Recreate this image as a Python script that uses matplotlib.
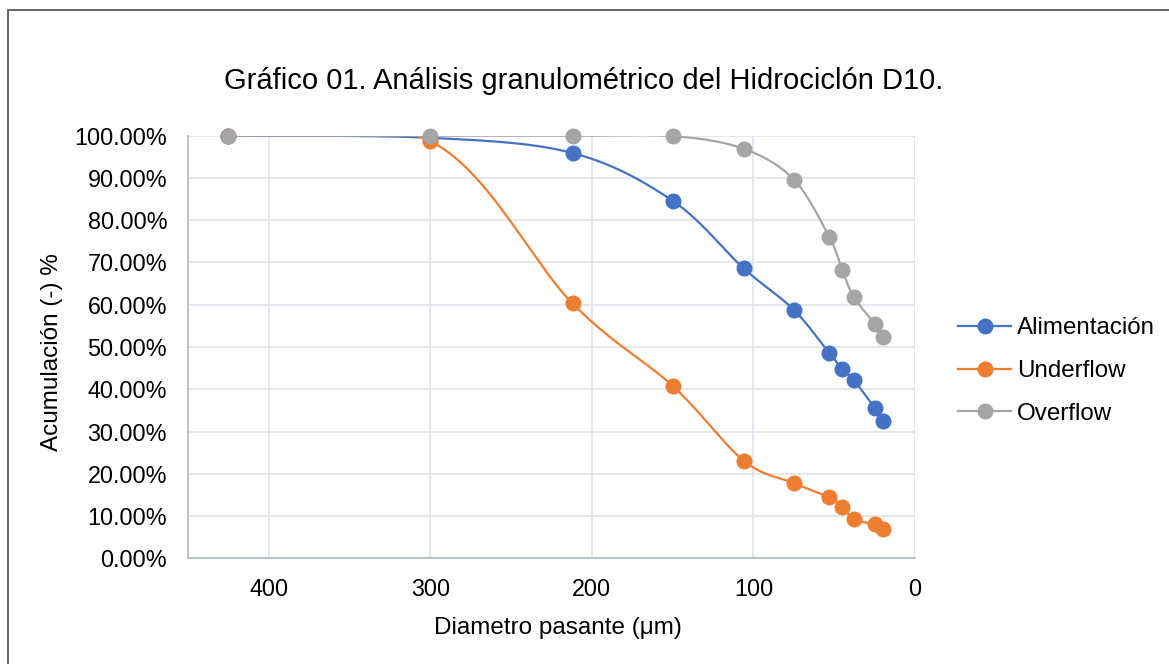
import matplotlib
matplotlib.use("Agg")
import matplotlib.pyplot as plt
import numpy as np
from matplotlib.patches import Rectangle
from matplotlib.ticker import FuncFormatter

# tamiz (um) y % acumulado pasante
SIZES = [425, 300, 212, 150, 106, 75, 53, 45, 38, 25, 20]
ALIM = [100.0, 99.5, 95.9, 84.6, 68.6, 58.8, 48.5, 44.8, 42.2, 35.6, 32.4]
UNDER = [100.0, 98.7, 60.3, 40.8, 23.1, 17.8, 14.4, 12.2, 9.3, 8.0, 6.9]
OVER = [100.0, 100.0, 100.0, 99.9, 96.9, 89.6, 76.0, 68.2, 61.9, 55.5, 52.3]
LABELS = ["Alimentación", "Underflow", "Overflow"]
COLORS = ["#4472C4", "#ED7D31", "#A5A5A5"]

W, H = 1169, 664
plt.rcParams["font.family"] = ["Liberation Sans", "DejaVu Sans"]
FS = 16.8

fig = plt.figure(figsize=(W / 100, H / 100), dpi=100)
ax = fig.add_axes([188 / W, 1 - 558.3 / H, 727 / W, 422.6 / H])
ax.set_xlim(450, 0)
ax.set_ylim(0, 1.0)
ax.set_xticks(np.arange(0, 401, 100))
ax.set_yticks(np.arange(0, 1.01, 0.1))
ax.yaxis.set_major_formatter(FuncFormatter(lambda v, _: f"{v*100:.2f}%"))
ax.tick_params(length=0, labelsize=FS, colors="#000000")
ax.tick_params(axis="y", pad=15)
ax.tick_params(axis="x", pad=14)
ax.grid(color="#dfe3ea", lw=1.2, zorder=0)
ax.set_axisbelow(True)
for s in ("top", "right"):
    ax.spines[s].set_visible(False)
for s in ("left", "bottom"):
    ax.spines[s].set_color("#b4bccb")
    ax.spines[s].set_linewidth(1.3)


def smooth(x, y, n=30):
    # Excel-like smoothing: cubic bezier, tangents from neighbours (in pixel space)
    p = ax.transData.transform(np.column_stack([x, y]))
    out = [p[0]]
    t = np.linspace(0, 1, n)[1:, None]
    for i in range(len(p) - 1):
        p0 = p[i - 1] if i > 0 else p[i]
        p3 = p[i + 2] if i + 2 < len(p) else p[i + 1]
        c1 = p[i] + (p[i + 1] - p0) / 6
        c2 = p[i + 1] - (p3 - p[i]) / 6
        seg = ((1 - t) ** 3) * p[i] + 3 * ((1 - t) ** 2) * t * c1 \
            + 3 * (1 - t) * t ** 2 * c2 + t ** 3 * p[i + 1]
        out.extend(seg)
    d = ax.transData.inverted().transform(np.array(out))
    return d[:, 0], d[:, 1]


x = np.array(SIZES, float)
for k, (vals, lab, c) in enumerate(zip((ALIM, UNDER, OVER), LABELS, COLORS)):
    y = np.array(vals) / 100
    sx, sy = smooth(x, y)
    ax.plot(sx, sy, color=c, lw=1.6, zorder=3 + k, solid_capstyle="round")
    ax.plot(x, y, "o", color=c, ms=10.5, zorder=3 + k, clip_on=False)
    ax.plot([], [], "-o", color=c, lw=1.6, ms=10.5, label=lab)

fig.text(584 / W, 1 - 89 / H, "Gráfico 01. Análisis granulométrico del Hidrociclón D10.",
         ha="center", va="baseline", fontsize=21)
fig.text(558 / W, 1 - 628 / H, "Diametro pasante (μm)", ha="center", va="center",
         fontsize=17.5)
fig.text(52 / W, 1 - 352 / H, "Acumulación (-) %", ha="center", va="center",
         rotation=90, fontsize=17.5)

fig.legend(loc="center left", bbox_to_anchor=(958 / W, 1 - 371 / H), frameon=False,
           fontsize=17.4, handlelength=2.2, handletextpad=0.25, labelspacing=0.85,
           borderpad=0, borderaxespad=0)

fig.patches.append(Rectangle((8 / W, -0.05), 1.1, (1 - 10 / H) + 0.05,
                             transform=fig.transFigure, fill=False,
                             ec="#595959", lw=1.3))

fig.savefig("out.png", dpi=100)
